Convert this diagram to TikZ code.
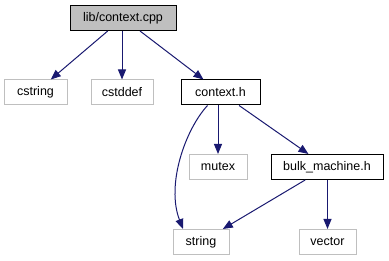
\documentclass[tikz,border=0pt]{standalone}
\usepackage{fontspec}
\setmainfont{Liberation Sans}
\usetikzlibrary{arrows.meta}
\definecolor{edgeblue}{HTML}{191970}
\definecolor{boxgray}{HTML}{BFBFBF}
\tikzset{
  file/.style={draw=black,fill=white,inner sep=0pt,line width=1pt,minimum height=25pt,font=\fontsize{12.5}{14}\selectfont},
  sysfile/.style={file,draw=boxgray},
  rootfile/.style={file,fill=boxgray},
  dep/.style={draw=edgeblue,line width=1pt,-{Triangle[length=10pt,width=8pt]}}
}

\begin{document}
\begin{tikzpicture}[x=1pt,y=-1pt]
    \useasboundingbox (0,0) rectangle (389,261);
    % files
    \node[rootfile,minimum width=106pt] (cpp) at (123,18) {lib/context.cpp};
    \node[sysfile,minimum width=63pt] (cstring) at (35.5,92.5) {cstring};
    \node[sysfile,minimum width=62pt] (cstddef) at (122,92.5) {cstddef};
    \node[file,minimum width=79pt] (ctx) at (220.5,92.5) {context.h};
    \node[sysfile,minimum width=58pt] (mutex) at (218,167) {mutex};
    \node[file,minimum width=112pt] (bulk) at (327,167) {bulk\_machine.h};
    \node[sysfile,minimum width=56pt] (str) at (201,242) {string};
    \node[sysfile,minimum width=57pt] (vec) at (327.5,242) {vector};
    % includes
    \draw[dep] (cpp) -- (cstring);
    \draw[dep] (cpp.south -| cstddef) -- (cstddef);
    \draw[dep] (cpp) -- (ctx);
    \draw[dep] ([xshift=-13pt]ctx.south) .. controls (185,130) and (166,185) .. ([xshift=-18pt]str.north);
    \draw[dep] (ctx.south -| mutex) -- (mutex);
    \draw[dep] (ctx) -- (bulk);
    \draw[dep] (bulk) -- (str);
    \draw[dep] (bulk.south -| vec) -- (vec);
  \end{tikzpicture}
\end{document}
